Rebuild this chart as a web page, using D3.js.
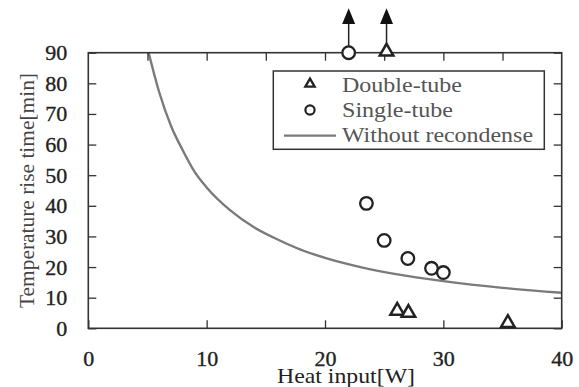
<!DOCTYPE html>
<html>
<head>
<meta charset="utf-8">
<script src="https://cdn.jsdelivr.net/npm/d3@7"></script>
<style>
body { margin: 0; background: #fff; }
text { font-family: "Liberation Serif", "Times New Roman", serif; }
</style>
</head>
<body>
<div id="canvas"></div>
<script>
"use strict"

/* chart size and plot box */
let svgWidth = 579;
let svgHeight = 387;
let plotLeft = 88.3, plotRight = 561.7, plotTop = 52.7, plotBottom = 328.3;
let serif = "'Liberation Serif', 'Times New Roman', serif";

/* data */
let singleX = [22, 23.5, 25, 27, 29, 30];
let singleY = [90, 40.8, 28.7, 22.8, 19.6, 18.2];
let doubleX = [25.2, 26.1, 27.05, 35.45];
let doubleY = [90, 5.4, 4.7, 1.4];
let arrowX = [22, 25.2]; // these two go off the top of the chart
let curveX = [5.1, 6, 7, 8, 9, 10, 12, 14, 16, 18, 20, 23, 26, 30, 35, 40];
let curveY = [90, 77, 66, 58, 51, 46, 38.5, 33, 29, 25.6, 23, 20, 17.7, 15.4, 13.2, 11.6];
let xTicks = [0, 10, 20, 30, 40];
let xMinorTicks = [5, 10, 15, 20, 25, 30, 35];
let yTicks = [0, 10, 20, 30, 40, 50, 60, 70, 80, 90];
let legendLabels = ["Double-tube", "Single-tube", "Without recondense"];

let svg = d3.select("#canvas")
    .append("svg")
    .attr("width", svgWidth)
    .attr("height", svgHeight);

let xScale = d3.scaleLinear().domain([0, 40]).range([plotLeft, plotRight]);
let yScale = d3.scaleLinear().domain([0, 90]).range([plotBottom, plotTop]);

/* curve first so the frame sits on top of it */
svg.append("clipPath").attr("id", "clip")
    .append("rect")
    .attr("x", plotLeft).attr("y", plotTop)
    .attr("width", plotRight - plotLeft).attr("height", plotBottom - plotTop);

let curveData = curveX.map((x, i) => [x, curveY[i]]);
svg.append("path")
    .datum(curveData)
    .attr("clip-path", "url(#clip)")
    .attr("fill", "none")
    .attr("stroke", "#7a7a7a")
    .attr("stroke-width", 2.4)
    .attr("d", d3.line()
        .x(d => xScale(d[0]))
        .y(d => yScale(d[1]))
        .curve(d3.curveMonotoneX));

/* axes, ticks pointing inward */
let tickColor = "#333";
let leftAxis = svg.append("g")
    .attr("transform", `translate(${plotLeft},0)`)
    .call(d3.axisLeft(yScale).tickValues(yTicks).tickSize(-8).tickPadding(21));
let bottomAxis = svg.append("g")
    .attr("transform", `translate(0,${plotBottom})`)
    .call(d3.axisBottom(xScale).tickValues(xTicks).tickSize(-8).tickPadding(22));
let topAxis = svg.append("g")
    .attr("transform", `translate(0,${plotTop})`)
    .call(d3.axisTop(xScale).tickValues(xMinorTicks).tickSize(-8).tickFormat(""));
let rightAxis = svg.append("g")
    .attr("transform", `translate(${plotRight},0)`)
    .call(d3.axisRight(yScale).tickValues(yTicks).tickSize(-8).tickFormat(""));

[leftAxis, bottomAxis, topAxis, rightAxis].forEach(function (g) {
    g.attr("font-family", serif).attr("font-size", 22);
    g.select(".domain").remove();
    g.selectAll("line").attr("stroke", tickColor).attr("stroke-width", 1.3);
    g.selectAll("text")
        .attr("fill", "#222")
        .attr("stroke", "#222")
        .attr("stroke-width", 0.35)
        .attr("font-family", serif)
        .attr("font-size", 22);
});

/* frame */
svg.append("rect")
    .attr("x", plotLeft).attr("y", plotTop)
    .attr("width", plotRight - plotLeft).attr("height", plotBottom - plotTop)
    .attr("fill", "none")
    .attr("stroke", "#333")
    .attr("stroke-width", 1.6);

/* axis titles (the reference type is a bit wide, so textLength stretches it) */
svg.append("text")
    .attr("x", 277)
    .attr("y", 383)
    .attr("fill", "#222")
    .attr("font-family", serif)
    .attr("font-size", 21)
    .attr("textLength", 138)
    .attr("lengthAdjust", "spacingAndGlyphs")
    .text("Heat input[W]");

svg.append("text")
    .attr("transform", "translate(34,308) rotate(-90)")
    .attr("fill", "#444")
    .attr("font-family", serif)
    .attr("font-size", 20)
    .attr("textLength", 235)
    .attr("lengthAdjust", "spacingAndGlyphs")
    .text("Temperature rise time[min]");

/* arrows for points that went past 90 min */
let arrowTipY = 8.3, arrowBaseY = 24;
arrowX.forEach(function (x) {
    svg.append("line")
        .attr("x1", xScale(x)).attr("x2", xScale(x))
        .attr("y1", arrowBaseY).attr("y2", yScale(90) - 5)
        .attr("stroke", "#222")
        .attr("stroke-width", 1.5);
    svg.append("path")
        .attr("d", `M${xScale(x)},${arrowTipY}L${xScale(x) + 6.5},${arrowBaseY}L${xScale(x) - 6.5},${arrowBaseY}Z`)
        .attr("fill", "#111");
});

/* markers */
let markerStroke = "#222";
svg.selectAll("null")
    .data(singleX)
    .join("circle")
    .attr("cx", d => xScale(d))
    .attr("cy", (d, i) => yScale(singleY[i]))
    .attr("r", 6.3)
    .attr("fill", "#fff")
    .attr("stroke", markerStroke)
    .attr("stroke-width", 2.3);

let triangle = d3.symbol().type(d3.symbolTriangle).size(80);
svg.selectAll("null")
    .data(doubleX)
    .join("path")
    .attr("d", triangle)
    .attr("transform", (d, i) => `translate(${xScale(d)},${yScale(doubleY[i]) - 1})`)
    .attr("fill", "#fff")
    .attr("stroke", markerStroke)
    .attr("stroke-width", 2.5)
    .attr("stroke-linejoin", "miter");

/* legend */
let legendX = 273.3, legendY = 71;
svg.append("rect")
    .attr("x", legendX).attr("y", legendY)
    .attr("width", 271).attr("height", 78.3)
    .attr("fill", "#fff")
    .attr("stroke", "#333")
    .attr("stroke-width", 1.5);

svg.append("path")
    .attr("d", d3.symbol().type(d3.symbolTriangle).size(38))
    .attr("transform", "translate(310,84)")
    .attr("fill", "#fff")
    .attr("stroke", markerStroke)
    .attr("stroke-width", 2.3);
svg.append("circle")
    .attr("cx", 310).attr("cy", 110)
    .attr("r", 4.6)
    .attr("fill", "#fff")
    .attr("stroke", markerStroke)
    .attr("stroke-width", 2.2);
svg.append("line")
    .attr("x1", 284).attr("x2", 336)
    .attr("y1", 135.7).attr("y2", 135.7)
    .attr("stroke", "#7a7a7a")
    .attr("stroke-width", 2.2);

let legendBaselines = [91.7, 117, 142.3];
let legendWidths = [120, 111, 191];
legendLabels.forEach(function (label, i) {
    svg.append("text")
        .attr("x", 342)
        .attr("y", legendBaselines[i])
        .attr("fill", "#555")
        .attr("font-family", serif)
        .attr("font-size", 21)
        .attr("textLength", legendWidths[i])
        .attr("lengthAdjust", "spacingAndGlyphs")
        .text(label);
});
</script>
</body>
</html>
